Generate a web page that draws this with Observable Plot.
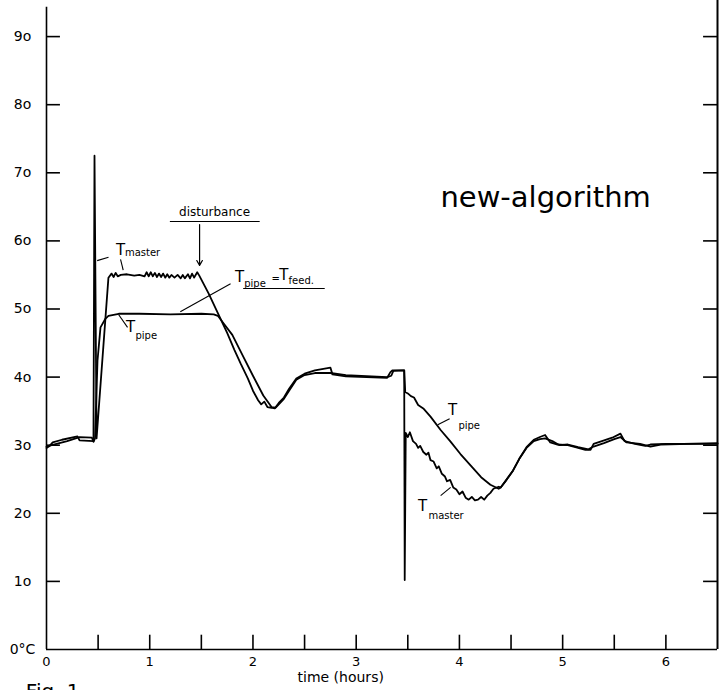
<!DOCTYPE html>
<html>
<head>
<meta charset="utf-8">
<script src="https://cdn.jsdelivr.net/npm/d3@7"></script>
<script src="https://cdn.jsdelivr.net/npm/@observablehq/plot@0.6"></script>
<style>
  body { margin: 0; background: #fff; }
  #chart svg { display: block; }
</style>
</head>
<body>
<div id="chart"></div>
<script>
// ---- data (time in hours, temperature in °C) ----
const masterTime = [0, 0.03, 0.06, 0.15, 0.30, 0.32, 0.455, 0.465, 0.485, 0.60,
  0.63, 0.65, 0.67, 0.69, 0.72, 0.78, 0.85, 0.90, 0.95, 0.97, 0.99, 1.01, 1.03, 1.05, 1.07, 1.09,
  1.11, 1.13, 1.15, 1.17, 1.19, 1.21, 1.24, 1.27, 1.30, 1.32, 1.34, 1.37, 1.39, 1.41, 1.43, 1.46, 1.48,
  1.57, 1.66, 1.75, 1.82, 1.88, 1.95, 2.00, 2.05, 2.08, 2.11, 2.14, 2.18, 2.21,
  2.25, 2.30, 2.35, 2.42, 2.50, 2.60, 2.75, 2.77, 2.90, 3.30, 3.33, 3.35, 3.46,
  3.465, 3.47, 3.48, 3.50, 3.52, 3.55, 3.58, 3.60, 3.62, 3.65, 3.68, 3.70, 3.72, 3.75, 3.78, 3.80,
  3.83, 3.86, 3.88, 3.91, 3.94, 3.97, 4.00, 4.03, 4.06, 4.09, 4.12, 4.15, 4.18, 4.21, 4.24, 4.27,
  4.30, 4.33, 4.38, 4.40, 4.45, 4.52, 4.58, 4.65, 4.72, 4.78, 4.83, 4.88, 4.95, 5.05, 5.15, 5.22,
  5.27, 5.30, 5.38, 5.48, 5.56, 5.60, 5.70, 5.80, 5.85, 6.00, 6.50];
const masterTemp = [29.6, 29.9, 30.4, 30.8, 31.3, 30.7, 30.6, 72.5, 31.0, 54.6,
  55.2, 54.7, 55.3, 54.8, 55.0, 55.1, 54.9, 55.0, 54.8, 55.4, 54.8, 55.4, 54.8, 55.3, 54.7, 55.2,
  54.7, 55.2, 54.6, 55.1, 54.6, 55.0, 54.6, 55.0, 54.5, 55.0, 54.5, 55.1, 54.5, 55.2, 54.6, 55.4, 54.9,
  52.3, 49.4, 46.5, 44.0, 42.0, 39.8, 38.0, 36.6, 36.0, 36.4, 35.6, 35.5, 35.4,
  36.2, 37.0, 38.3, 39.8, 40.5, 41.0, 41.4, 40.4, 40.1, 39.9, 40.7, 41.0, 41.0,
  41.0, 10.2, 31.8, 31.2, 31.9, 30.6, 30.2, 29.6, 29.9, 29.0, 28.6, 28.9, 27.8, 27.6, 26.6, 26.9,
  25.8, 25.4, 24.7, 24.9, 23.8, 23.5, 22.8, 23.2, 22.3, 22.0, 22.4, 21.9, 22.0, 22.4, 22.0, 22.6,
  23.0, 23.6, 23.9, 23.8, 24.8, 26.3, 28.0, 29.7, 30.8, 31.2, 31.5, 30.4, 30.1, 30.0, 29.6, 29.3,
  29.3, 30.2, 30.6, 31.1, 31.7, 30.6, 30.2, 29.9, 30.1, 30.2, 30.2];

const pipeTime = [0, 0.05, 0.20, 0.32, 0.44, 0.455, 0.47, 0.494, 0.523, 0.572, 0.60, 0.70,
  0.90, 1.20, 1.50, 1.62, 1.66, 1.72, 1.80, 1.90, 2.00, 2.10, 2.18, 2.22,
  2.25, 2.30, 2.35, 2.42, 2.50, 2.60, 2.75, 2.90, 3.30, 3.34, 3.36, 3.46,
  3.465, 3.475, 3.50, 3.53, 3.56, 3.60, 3.65, 3.72, 3.82, 3.91, 4.01, 4.11, 4.21, 4.30, 4.38,
  4.40, 4.45, 4.52, 4.58, 4.65, 4.72, 4.78, 4.83, 4.90, 4.97, 5.05, 5.15, 5.25, 5.30, 5.40,
  5.50, 5.56, 5.62, 5.75, 5.85, 5.95, 6.50];
const pipeTemp = [29.8, 30.0, 30.6, 31.2, 31.1, 30.5, 31.0, 42.4, 47.3, 48.6, 49.0, 49.3,
  49.3, 49.2, 49.3, 49.2, 49.0, 47.8, 46.2, 43.2, 40.2, 37.3, 35.6, 35.5,
  36.0, 36.8, 38.0, 39.6, 40.3, 40.6, 40.6, 40.3, 40.0, 40.2, 40.9, 41.0,
  41.0, 37.8, 37.6, 37.2, 37.0, 35.9, 35.4, 34.2, 32.2, 30.6, 28.7, 27.0, 25.3, 24.2, 23.6,
  23.8, 24.8, 26.3, 28.0, 29.6, 30.6, 30.9, 31.0, 30.6, 30.0, 30.1, 29.7, 29.4, 29.8, 30.3,
  30.9, 31.2, 30.4, 30.2, 29.8, 30.1, 30.3];

const yTicks = [10, 20, 30, 40, 50, 60, 70, 80, 90];
const yTickLabels = ["0°C", "1o", "2o", "3o", "4o", "5o", "6o", "7o", "8o", "9o"];
const xTicks = [0, 1, 2, 3, 4, 5, 6];
const xHalfTicks = [0.5, 1, 1.5, 2, 2.5, 3, 3.5, 4, 4.5, 5, 5.5, 6];

const master = masterTime.map((t, i) => ({t, v: masterTemp[i]}));
const pipe = pipeTime.map((t, i) => ({t, v: pipeTemp[i]}));
const yLabelData = yTickLabels.map((s, i) => ({v: i * 10, s}));

// annotation pieces (T with subscript)
const bigT = [
  {t: 0.717, v: 58.6, s: "T"},
  {t: 0.814, v: 47.3, s: "T"},
  {t: 1.87, v: 54.6, s: "T"},
  {t: 2.30, v: 54.9, s: "T"},
  {t: 3.934, v: 35.1, s: "T"},
  {t: 3.643, v: 21.0, s: "T"}
];
const subs = [
  {t: 0.76, v: 58.2, s: "master"},
  {t: 0.862, v: 46.0, s: "pipe"},
  {t: 1.915, v: 53.7, s: "pipe"},
  {t: 2.18, v: 54.4, s: "="},
  {t: 2.345, v: 54.1, s: "feed."},
  {t: 3.99, v: 32.9, s: "pipe"},
  {t: 3.70, v: 19.7, s: "master"}
];
const leaders = [
  {x1: 0.491, y1: 57.1, x2: 0.601, y2: 57.6},
  {x1: 0.717, y1: 57.3, x2: 0.743, y2: 55.7},
  {x1: 0.698, y1: 49.2, x2: 0.785, y2: 47.3},
  {x1: 1.296, y1: 49.6, x2: 1.783, y2: 53.7},
  {x1: 3.79, y1: 33.0, x2: 3.905, y2: 33.9},
  {x1: 3.818, y1: 22.6, x2: 3.915, y2: 23.8}
];
const underlines = [
  {x1: 1.20, x2: 2.07, y: 62.85},
  {x1: 1.91, x2: 2.70, y: 53.0}
];

const font = "DejaVu Sans";

const chart = Plot.plot({
  width: 724,
  height: 690,
  marginLeft: 46,
  marginRight: 7,
  marginTop: 0,
  marginBottom: 41,
  x: {domain: [0, 6.5], axis: null},
  y: {domain: [0, 95.3], axis: null},
  style: {fontFamily: font, background: "#fff"},
  marks: [
    // frame: left axis, bottom axis, right border
    Plot.ruleX([0], {y1: 0, y2: 94.3, stroke: "#000", strokeWidth: 1.6}),
    Plot.ruleY([0], {x1: 0, x2: 6.5, stroke: "#000", strokeWidth: 1.6}),
    Plot.ruleX([6.5], {y1: 0, y2: 95.3, stroke: "#000", strokeWidth: 2}),
    // inward ticks
    Plot.ruleY(yTicks, {x1: 0, x2: 0.135, stroke: "#000", strokeWidth: 1.6}),
    Plot.ruleY(yTicks, {x1: 6.365, x2: 6.5, stroke: "#000", strokeWidth: 1.6}),
    Plot.ruleX(xHalfTicks, {y1: 0, y2: 2.1, stroke: "#000", strokeWidth: 1.6}),
    // tick labels
    Plot.text(yLabelData, {x: 0, y: "v", text: "s", dx: -24, fontSize: 14, textAnchor: "middle", fill: "#000"}),
    Plot.text(xTicks, {x: d => d, y: 0, text: d => String(d), dy: 12, fontSize: 13, fill: "#000"}),
    Plot.text(["time (hours)"], {x: 2.85, y: -4.1, text: d => d, fontSize: 14, fill: "#000"}),
    Plot.text(["Fig. 1"], {x: -0.2, y: -6.2, text: d => d, fontSize: 20, textAnchor: "start", fill: "#000"}),
    // data
    Plot.line(pipe, {x: "t", y: "v", stroke: "#000", strokeWidth: 1.8}),
    Plot.line(master, {x: "t", y: "v", stroke: "#000", strokeWidth: 1.8}),
    // annotations
    Plot.link(leaders, {x1: "x1", y1: "y1", x2: "x2", y2: "y2", stroke: "#000", strokeWidth: 1.1}),
    Plot.ruleY(underlines, {y: "y", x1: "x1", x2: "x2", stroke: "#000", strokeWidth: 1.1}),
    Plot.arrow([{x1: 1.483, y1: 62.4, x2: 1.483, y2: 56.4}], {x1: "x1", y1: "y1", x2: "x2", y2: "y2", stroke: "#000", strokeWidth: 1.2, headLength: 7}),
    Plot.text(bigT, {x: "t", y: "v", text: "s", fontSize: 15, fill: "#000"}),
    Plot.text(subs, {x: "t", y: "v", text: "s", fontSize: 10, textAnchor: "start", fill: "#000"}),
    Plot.text(["disturbance"], {x: 1.628, y: 64.2, text: d => d, fontSize: 12, fill: "#000"}),
    Plot.text(["new-algorithm"], {x: 4.835, y: 66.3, text: d => d, fontSize: 29, fontWeight: 500, fill: "#000"})
  ]
});
document.getElementById("chart").appendChild(chart);
</script>
</body>
</html>
